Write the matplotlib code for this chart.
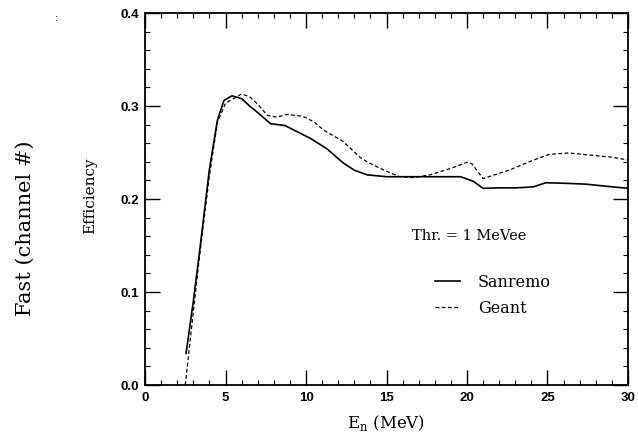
import matplotlib.pyplot as plt
from matplotlib.ticker import MultipleLocator

# Sanremo (solid)
sanremo_e = [2.55, 3.0, 3.4, 4.0, 4.5, 4.9, 5.4, 6.0, 6.5, 7.0, 7.8, 8.7, 9.5, 10.3,
             11.3, 12.3, 13.0, 13.8, 15.0, 15.8, 17.0, 18.0, 19.6, 20.4, 21.0, 22.0,
             23.0, 24.1, 24.9, 26.0, 27.4, 28.5, 30.0]
sanremo_eff = [0.034, 0.09, 0.145, 0.232, 0.285, 0.306, 0.311, 0.308, 0.300, 0.293,
               0.281, 0.279, 0.272, 0.265, 0.254, 0.239, 0.231, 0.226, 0.224, 0.224,
               0.224, 0.224, 0.224, 0.219, 0.2115, 0.212, 0.212, 0.213, 0.2175, 0.217,
               0.216, 0.214, 0.2115]

# Geant (dashed)
geant_e = [2.5, 3.2, 3.5, 4.0, 4.5, 5.0, 5.5, 6.0, 6.5, 7.0, 7.6, 8.2, 8.8, 9.8,
           10.5, 11.1, 12.3, 13.35, 13.8, 14.6, 15.8, 16.7, 17.7, 19.0, 20.0, 20.3,
           21.0, 22.6, 24.0, 25.1, 26.3, 27.8, 29.0, 30.0]
geant_eff = [0.0, 0.11, 0.155, 0.225, 0.283, 0.303, 0.308, 0.313, 0.310, 0.302,
             0.290, 0.288, 0.291, 0.289, 0.283, 0.274, 0.262, 0.245, 0.240, 0.233,
             0.224, 0.223, 0.226, 0.233, 0.2395, 0.238, 0.222, 0.231, 0.241, 0.248,
             0.2495, 0.247, 0.245, 0.242]

serif = 'DejaVu Serif'

fig = plt.figure(figsize=(6.38, 4.34), dpi=100)
ax = fig.add_axes([0.2273, 0.1129, 0.757, 0.857])

ax.plot(sanremo_e, sanremo_eff, '-', color='black', lw=1.2, label='Sanremo')
ax.plot(geant_e, geant_eff, '--', color='black', lw=0.9, dashes=(3, 2), label='Geant')

ax.set_xlim(0, 30)
ax.set_ylim(0, 0.4)
ax.xaxis.set_major_locator(MultipleLocator(5))
ax.xaxis.set_minor_locator(MultipleLocator(1))
ax.yaxis.set_major_locator(MultipleLocator(0.1))
ax.yaxis.set_minor_locator(MultipleLocator(0.02))
ax.tick_params(which='both', direction='in', top=True, right=True, colors='black')
ax.tick_params(axis='x', which='major', pad=5)
ax.tick_params(axis='y', which='major', pad=4)
ax.tick_params(which='major', length=11, width=1)
ax.tick_params(which='minor', length=3.6, width=0.8)
ax.yaxis.set_major_formatter(plt.FuncFormatter(lambda v, p: '%.1f' % v))
for lab in ax.get_xticklabels() + ax.get_yticklabels():
    lab.set_family('Liberation Sans')
    lab.set_weight('bold')
    lab.set_fontsize(9.5)
for s in ax.spines.values():
    s.set_linewidth(1.3)

ax.set_xlabel(r'E$_\mathregular{n}$ (MeV)', family=serif, fontsize=12)
ax.xaxis.set_label_coords(0.5, -0.075)
ax.set_ylabel('Efficiency', family=serif, fontsize=11)
ax.yaxis.set_label_coords(-0.1, 0.51)

ax.text(16.6, 0.160, 'Thr. = 1 MeVee', family=serif, fontsize=10.5, va='center')
ax.legend(loc='center left', bbox_to_anchor=(0.6, 0.241), frameon=False,
          borderpad=0, borderaxespad=0, handlelength=1.6, handletextpad=1.1,
          labelspacing=0.55, prop={'family': serif, 'size': 11.5})

fig.text(0.039, 0.475, 'Fast (channel #)', family=serif, fontsize=15,
         rotation=90, ha='center', va='center')
fig.text(0.088, 0.958, ':', fontsize=7, ha='center', va='center')

fig.savefig('out.png', dpi=100)
